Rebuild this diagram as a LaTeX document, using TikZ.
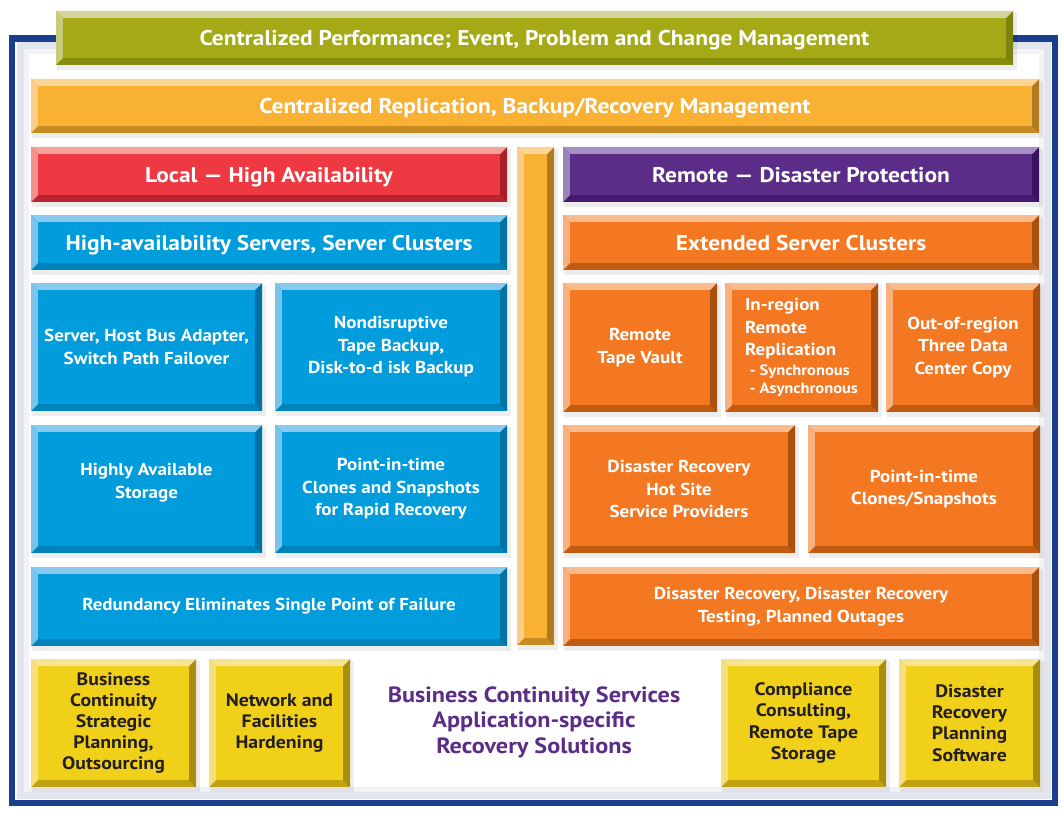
\documentclass[tikz,border=0pt]{standalone}
\usepackage{fontspec}
\setmainfont[FakeStretch=1.1]{PT Sans}
\definecolor{frameblue}{HTML}{1B3E8C}
\definecolor{glow}{HTML}{E3E5EE}
\definecolor{ptext}{HTML}{5B2D87}
\definecolor{ytext}{HTML}{231F20}
% green
\definecolor{cgB}{HTML}{A5A916}\definecolor{cgT}{HTML}{D3D49A}\definecolor{cgL}{HTML}{C9CC7A}\definecolor{cgD}{HTML}{858C10}\definecolor{cgR}{HTML}{7B840D}
% light orange
\definecolor{coB}{HTML}{F8B133}\definecolor{coT}{HTML}{FCD596}\definecolor{coL}{HTML}{FBCD86}\definecolor{coD}{HTML}{C88A23}\definecolor{coR}{HTML}{B07A1E}
% red
\definecolor{crB}{HTML}{EE3943}\definecolor{crT}{HTML}{F4A19B}\definecolor{crL}{HTML}{F3918C}\definecolor{crD}{HTML}{BA2330}\definecolor{crR}{HTML}{A81E2A}
% purple
\definecolor{cpB}{HTML}{5C2D88}\definecolor{cpT}{HTML}{A590C2}\definecolor{cpL}{HTML}{9A83B9}\definecolor{cpD}{HTML}{45196F}\definecolor{cpR}{HTML}{3A135F}
% blue
\definecolor{cbB}{HTML}{009CDB}\definecolor{cbT}{HTML}{88CBEE}\definecolor{cbL}{HTML}{7AC4EB}\definecolor{cbD}{HTML}{0083BA}\definecolor{cbR}{HTML}{0072A3}
% dark orange
\definecolor{cdB}{HTML}{F37821}\definecolor{cdT}{HTML}{F9BB8C}\definecolor{cdL}{HTML}{F8B07C}\definecolor{cdD}{HTML}{C25B12}\definecolor{cdR}{HTML}{A9500F}
% yellow
\definecolor{cyB}{HTML}{F1D01A}\definecolor{cyT}{HTML}{F8E593}\definecolor{cyL}{HTML}{F6DF7C}\definecolor{cyD}{HTML}{BFA111}\definecolor{cyR}{HTML}{A88E0C}

\tikzset{
  face/.style={inner sep=0pt, outer sep=0pt, align=center, text=white,
    font=\bfseries\fontsize{17.3}{22.5}\selectfont},
  barfont/.style={font=\bfseries\fontsize{21.3}{25}\selectfont, text depth=0pt},
  yfont/.style={text=ytext, font=\bfseries\fontsize{18}{21.2}\selectfont},
  boxshadow/.style={fill=black, opacity=0.07},
}
% #1 node options, #2 name, #3 x1, #4 y1, #5 x2, #6 y2, #7 colour prefix, #8 text
\newcommand\bbox[8]{%
  \fill[boxshadow] ({#3+1},{#4+2}) rectangle ({#5+4},{#6+5});
  \fill[#7D] (#3,#4) rectangle (#5,#6);
  \fill[#7R] (#5,#4) -- (#5,#6) -- ({#5-7},{#6-7}) -- ({#5-7},{#4+7}) -- cycle;
  \fill[#7T] (#3,#4) -- (#5,#4) -- ({#5-7},{#4+7}) -- ({#3+7},{#4+7}) -- cycle;
  \fill[#7L] (#3,#4) -- ({#3+7},{#4+7}) -- ({#3+7},{#6-7}) -- (#3,#6) -- cycle;
  \node[face, fill=#7B, minimum width={(#5-#3-14)*1pt}, minimum height={(#6-#4-14)*1pt}, #1]
    (#2) at ({(#3+#5)/2},{(#4+#6)/2}) {#8};
}

\begin{document}
\begin{tikzpicture}[x=1pt,y=-1pt]
\useasboundingbox (0,0) rectangle (1062,813);
\fill[white] (0,0) rectangle (1062,813);
% frame with inner glow
\draw[glow, line width=7pt] (20,46) rectangle (1047,795);
\draw[glow!45, line width=5pt] (26,52) rectangle (1041,789);
\draw[frameblue, line width=6.5pt] (12,38.5) rectangle (1055,803);

% top bars
\bbox{barfont}{perf}{56}{11}{1013}{65}{cg}{Centralized Performance; Event, Problem and Change Management}
\bbox{barfont}{repl}{31}{79}{1039}{133}{co}{Centralized Replication, Backup/Recovery Management}
\bbox{barfont}{local}{31}{147}{507}{202}{cr}{Local — High Availability}
\bbox{barfont}{remote}{563}{147}{1039}{202}{cp}{Remote — Disaster Protection}
\bbox{}{pillar}{517}{147}{554}{645}{co}{}

% left column
\bbox{barfont}{has}{31}{215}{507}{270}{cb}{High-availability Servers, Server Clusters}
\bbox{}{hba}{31}{283}{262}{411}{cb}{Server, Host Bus Adapter,\\Switch Path Failover}
\bbox{}{tape}{275}{283}{507}{411}{cb}{Nondisruptive\\Tape Backup,\\Disk-to-d isk Backup}
\bbox{}{storage}{31}{425}{262}{553}{cb}{Highly Available\\Storage\\[-6pt]}
\bbox{}{pit}{275}{425}{507}{553}{cb}{Point-in-time\\Clones and Snapshots\\for Rapid Recovery}
\bbox{}{redund}{31}{567}{507}{646}{cb}{Redundancy Eliminates Single Point of Failure}

% right column
\bbox{barfont}{esc}{563}{215}{1039}{270}{cd}{Extended Server Clusters}
\bbox{}{vault}{563}{283}{717}{412}{cd}{Remote\\Tape Vault}
\bbox{align=left}{inreg}{725}{283}{878}{412}{cd}{In-region\\Remote\\Replication\\[-3pt]{\fontsize{15}{18}\selectfont\hspace*{0.3em}- Synchronous}\\[-4pt]{\fontsize{15}{18}\selectfont\hspace*{0.3em}- Asynchronous}}
\bbox{}{outreg}{886}{283}{1040}{412}{cd}{Out-of-region\\Three Data\\Center Copy}
\bbox{}{hotsite}{563}{425}{795}{553}{cd}{Disaster Recovery\\Hot Site\\Service Providers}
\bbox{}{rpit}{808}{425}{1040}{553}{cd}{Point-in-time\\Clones/Snapshots}
\bbox{}{drtest}{563}{567}{1039}{646}{cd}{Disaster Recovery, Disaster Recovery\\Testing, Planned Outages}

% bottom yellow boxes
\bbox{yfont}{bcsp}{31}{659}{196}{787}{cy}{Business\\Continuity\\Strategic\\Planning,\\Outsourcing}
\bbox{yfont}{netfac}{209}{659}{350}{787}{cy}{Network and\\Facilities\\Hardening}
\bbox{yfont}{compl}{721}{659}{886}{787}{cy}{Compliance\\Consulting,\\Remote Tape\\Storage}
\bbox{yfont}{drps}{899}{659}{1040}{787}{cy}{Disaster\\Recovery\\Planning\\Software}

\node[align=center, text=ptext, font=\bfseries\fontsize{22}{25.5}\selectfont]
  (bcs) at (534,722) {Business Continuity Services\\Application-specific\\Recovery Solutions};
\end{tikzpicture}
\end{document}
